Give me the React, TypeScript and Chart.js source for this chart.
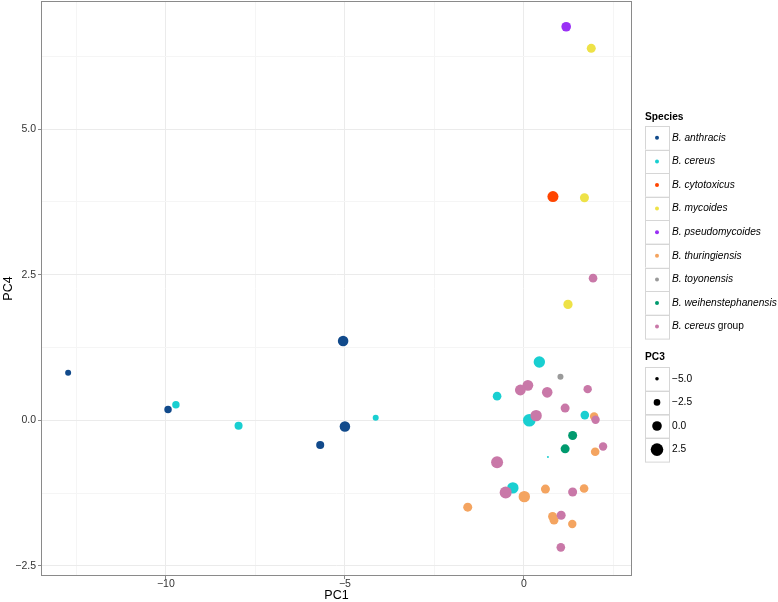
import React, { useEffect, useRef } from "react";
import { Chart, registerables } from "chart.js";
Chart.register(...registerables);

// ---- data (PC1, PC4, PC3) per species ----
const speciesNames = [
  "B. anthracis",
  "B. cereus",
  "B. cytotoxicus",
  "B. mycoides",
  "B. pseudomycoides",
  "B. thuringiensis",
  "B. toyonensis",
  "B. weihenstephanensis",
  "B. cereus group",
];
const speciesColors = [
  "#114a8b",
  "#19cfd1",
  "#ff4500",
  "#eee247",
  "#9a30f5",
  "#f4a460",
  "#9a9a9a",
  "#009a6e",
  "#c978a8",
];

const anthracisPC1 = [-12.73, -9.94, -5.05, -5.0, -5.69];
const anthracisPC4 = [0.815, 0.185, 1.36, -0.106, -0.425];
const anthracisPC3 = [-3.0, -1.8, 0.8, 0.8, -1.3];

const cereusPC1 = [-9.72, -7.97, -4.14, 0.43, -0.75, 1.7, 0.15, 0.67, -0.31];
const cereusPC4 = [0.266, -0.094, 0.043, 1.0, 0.415, 0.09, 0.0, -0.63, -1.16];
const cereusPC3 = [-1.8, -1.3, -3.0, 1.5, -0.8, -0.8, 2.5, -6.3, 1.5];

const cytotoxicusPC1 = [0.81];
const cytotoxicusPC4 = [3.84];
const cytotoxicusPC3 = [1.2];

const mycoidesPC1 = [1.88, 1.69, 1.23];
const mycoidesPC4 = [6.385, 3.82, 1.99];
const mycoidesPC3 = [-0.5, -0.5, -0.3];

const pseudomycoidesPC1 = [1.18];
const pseudomycoidesPC4 = [6.755];
const pseudomycoidesPC3 = [0.0];

const thuringiensisPC1 = [1.96, 1.99, 0.01, 0.6, 1.68, -1.57, 0.8, 0.84, 1.35];
const thuringiensisPC4 = [0.065, -0.54, -1.31, -1.18, -1.17, -1.49, -1.65, -1.71, -1.78];
const thuringiensisPC3 = [-1.0, -0.8, 1.5, -0.5, -0.8, -0.5, -0.5, -0.5, -1.0];

const toyonensisPC1 = [1.02];
const toyonensisPC4 = [0.746];
const toyonensisPC3 = [-3.0];

const weihenPC1 = [1.36, 1.15];
const weihenPC4 = [-0.26, -0.49];
const weihenPC3 = [-0.5, -0.5];

const groupPC1 = [0.11, -0.1, 0.65, 1.78, 1.15, 2.0, 0.34, 2.21, -0.75, -0.51, 1.36, 1.04, 1.03, 1.93];
const groupPC4 = [0.6, 0.52, 0.48, 0.535, 0.21, 0.01, 0.08, -0.45, -0.72, -1.24, -1.23, -1.63, -2.18, 2.44];
const groupPC3 = [1.0, 1.0, 0.8, -1.0, -0.5, -1.0, 1.5, -1.0, 2.0, 2.0, -0.5, -0.5, -0.8, -0.8];

const seriesPC1 = [anthracisPC1, cereusPC1, cytotoxicusPC1, mycoidesPC1, pseudomycoidesPC1, thuringiensisPC1, toyonensisPC1, weihenPC1, groupPC1];
const seriesPC4 = [anthracisPC4, cereusPC4, cytotoxicusPC4, mycoidesPC4, pseudomycoidesPC4, thuringiensisPC4, toyonensisPC4, weihenPC4, groupPC4];
const seriesPC3 = [anthracisPC3, cereusPC3, cytotoxicusPC3, mycoidesPC3, pseudomycoidesPC3, thuringiensisPC3, toyonensisPC3, weihenPC3, groupPC3];

const xTickValues = [-12.5, -10, -7.5, -5, -2.5, 0, 2.5];
const xMajor = [-10, -5, 0];
const xTickLabels = ["\u221210", "\u22125", "0"];
const yTickValues = [-2.5, -1.25, 0, 1.25, 2.5, 3.75, 5, 6.25];
const yMajor = [-2.5, 0, 2.5, 5];
const yTickLabels = ["\u22122.5", "0.0", "2.5", "5.0"];

const sizeLegendValues = [-5, -2.5, 0, 2.5];
const sizeLegendLabels = ["\u22125.0", "\u22122.5", "0.0", "2.5"];

const radiusOf = (pc3: number) => Math.max(0.8, 4.8 + 0.6 * pc3);

const FONT = "'Liberation Sans', Arial, Helvetica, sans-serif";
const LEG = 10.2;

const panelPlugin = {
  id: "panelBorder",
  afterDatasetsDraw(chart: any) {
    const { ctx, chartArea } = chart;
    ctx.save();
    ctx.strokeStyle = "#8a8a8a";
    ctx.lineWidth = 1;
    ctx.strokeRect(
      Math.round(chartArea.left) - 0.5,
      Math.round(chartArea.top) - 0.5,
      Math.round(chartArea.right - chartArea.left) + 1,
      Math.round(chartArea.bottom - chartArea.top) + 1
    );
    ctx.restore();
  },
};

const legendPlugin = {
  id: "ggLegend",
  afterDraw(chart: any) {
    const { ctx, chartArea } = chart;
    const x0 = Math.round(chartArea.right) + 14;
    const keyW = 24;
    const keyH = 23.6;
    ctx.save();
    ctx.textBaseline = "middle";
    ctx.fillStyle = "#000";
    ctx.font = `bold ${LEG}px ${FONT}`;
    ctx.fillText("Species", x0, 117);
    let top = 126;
    speciesNames.forEach((name, i) => {
      const y = top + i * keyH;
      ctx.fillStyle = "#ffffff";
      ctx.fillRect(x0, y, keyW, keyH);
      ctx.strokeStyle = "#d6d6d6";
      ctx.lineWidth = 1;
      ctx.strokeRect(x0 + 0.5, Math.round(y) + 0.5, keyW, keyH);
      ctx.fillStyle = speciesColors[i];
      ctx.beginPath();
      ctx.arc(x0 + keyW / 2, y + keyH / 2, 2, 0, Math.PI * 2);
      ctx.fill();
      ctx.fillStyle = "#000";
      const tx = x0 + keyW + 3;
      const ty = y + keyH / 2;
      if (name.endsWith(" group")) {
        const it = name.replace(" group", "");
        ctx.font = `italic ${LEG}px ${FONT}`;
        ctx.fillText(it, tx, ty);
        const w = ctx.measureText(it + " ").width;
        ctx.font = `${LEG}px ${FONT}`;
        ctx.fillText("group", tx + w, ty);
      } else {
        ctx.font = `italic ${LEG}px ${FONT}`;
        ctx.fillText(name, tx, ty);
      }
    });
    ctx.fillStyle = "#000";
    ctx.font = `bold ${LEG}px ${FONT}`;
    ctx.fillText("PC3", x0, 357);
    top = 367;
    sizeLegendValues.forEach((v, i) => {
      const y = top + i * keyH;
      ctx.strokeStyle = "#d6d6d6";
      ctx.lineWidth = 1;
      ctx.strokeRect(x0 + 0.5, Math.round(y) + 0.5, keyW, keyH);
      ctx.fillStyle = "#000";
      ctx.beginPath();
      ctx.arc(x0 + keyW / 2, y + keyH / 2, radiusOf(v), 0, Math.PI * 2);
      ctx.fill();
      ctx.font = `${LEG}px ${FONT}`;
      ctx.fillText(sizeLegendLabels[i], x0 + keyW + 3, y + keyH / 2);
    });
    ctx.restore();
  },
};

export default function App() {
  const ref = useRef<HTMLCanvasElement | null>(null);
  useEffect(() => {
    if (!ref.current) return;
    const n = speciesNames.length;
    const datasets = speciesNames.map((name, i) => ({
      label: name,
      data: seriesPC1[i].map((x, j) => ({ x, y: seriesPC4[i][j], pc3: seriesPC3[i][j] })),
      backgroundColor: speciesColors[i],
      borderWidth: 0,
      pointRadius: (c: any) => radiusOf(c.raw ? c.raw.pc3 : 0),
      pointHoverRadius: (c: any) => radiusOf(c.raw ? c.raw.pc3 : 0),
      order: n - i,
    }));
    const isMajor = (arr: number[], v: number) => arr.some((m) => Math.abs(m - v) < 1e-6);
    const chart = new Chart(ref.current, {
      type: "scatter",
      data: { datasets },
      plugins: [panelPlugin, legendPlugin],
      options: {
        animation: false,
        responsive: false,
        maintainAspectRatio: false,
        layout: { autoPadding: false, padding: { left: 0, right: 147, top: 2, bottom: 0 } },
        plugins: { legend: { display: false }, tooltip: { enabled: false } },
        scales: {
          x: {
            type: "linear",
            min: -13.46,
            max: 2.99,
            afterBuildTicks: (s: any) => {
              s.ticks = xTickValues.map((v) => ({ value: v }));
            },
            afterFit: (s: any) => {
              s.height = 27;
              s.paddingLeft = 0;
              s.paddingRight = 0;
            },
            border: { display: false },
            grid: {
              color: (c: any) => (isMajor(xMajor, c.tick ? c.tick.value : 0) ? "#ebebeb" : "#f5f5f5"),
              lineWidth: 1,
              tickLength: 4,
              tickColor: (c: any) => (isMajor(xMajor, c.tick ? c.tick.value : 0) ? "#8a8a8a" : "rgba(0,0,0,0)"),
            },
            ticks: {
              autoSkip: false,
              maxRotation: 0,
              padding: 0,
              color: "#333",
              font: { family: FONT, size: 10.5, lineHeight: 1 },
              callback: (v: any) => {
                const k = xMajor.findIndex((m) => Math.abs(m - v) < 1e-6);
                return k >= 0 ? xTickLabels[k] : "";
              },
            },
            title: {
              display: true,
              text: "PC1",
              color: "#000",
              font: { family: FONT, size: 12.5, lineHeight: 1 },
              padding: { top: 0, bottom: 0 },
            },
          },
          y: {
            type: "linear",
            min: -2.655,
            max: 7.18,
            afterBuildTicks: (s: any) => {
              s.ticks = yTickValues.map((v) => ({ value: v }));
            },
            afterFit: (s: any) => {
              s.width = 42;
              s.paddingTop = 0;
              s.paddingBottom = 0;
            },
            border: { display: false },
            grid: {
              color: (c: any) => (isMajor(yMajor, c.tick ? c.tick.value : 0) ? "#ebebeb" : "#f5f5f5"),
              lineWidth: 1,
              tickLength: 4,
              tickColor: (c: any) => (isMajor(yMajor, c.tick ? c.tick.value : 0) ? "#8a8a8a" : "rgba(0,0,0,0)"),
            },
            ticks: {
              autoSkip: false,
              padding: 2,
              color: "#333",
              font: { family: FONT, size: 10.5 },
              callback: (v: any) => {
                const k = yMajor.findIndex((m) => Math.abs(m - v) < 1e-6);
                return k >= 0 ? yTickLabels[k] : "";
              },
            },
            title: {
              display: true,
              text: "PC4",
              color: "#000",
              font: { family: FONT, size: 12.5 },
              padding: { top: 1, bottom: 0 },
            },
          },
        },
      },
    } as any);
    return () => chart.destroy();
  }, []);
  return (
    <div style={{ position: "fixed", left: 0, top: 0, width: 778, height: 602, background: "#fff" }}>
      <canvas ref={ref} width={778} height={602} style={{ width: 778, height: 602, display: "block" }} />
    </div>
  );
}
